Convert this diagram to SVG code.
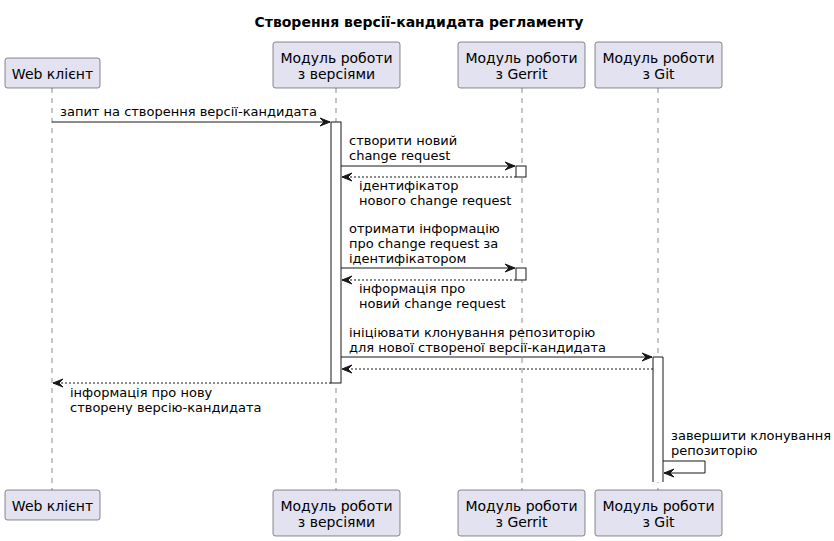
<svg xmlns="http://www.w3.org/2000/svg" width="834" height="541" viewBox="0 0 834 541">
<defs>
<marker id="ah" markerUnits="userSpaceOnUse" markerWidth="12" markerHeight="10" refX="10" refY="4" orient="auto" overflow="visible">
<path d="M0,0 L10,4 L0,8 L4,4 Z" fill="#181818" stroke="#181818" stroke-width="1"/>
</marker>
</defs>
<style>
text{font-family:"DejaVu Sans","Liberation Sans",sans-serif;fill:#000}
.title{font-size:14px;font-weight:bold}
.pt{font-size:14px}
.msg{font-size:13px}
.box{fill:#E2E2F0;stroke:#181818;stroke-width:0.5}
.life{stroke:#181818;stroke-width:0.5;stroke-dasharray:5,5;fill:none}
.act{fill:#FFFFFF;stroke:#181818;stroke-width:1}
.ln{stroke:#181818;stroke-width:1;fill:none;marker-end:url(#ah)}
.ret{stroke-dasharray:2,2}
</style>
<rect width="834" height="541" fill="#FFFFFF"/>
<text class="title" x="419" y="27" text-anchor="middle">Створення версії-кандидата регламенту</text>

<g id="lifelines">
<line class="life" x1="52" y1="88" x2="52" y2="490"/>
<line class="life" x1="336" y1="88" x2="336" y2="490"/>
<line class="life" x1="522" y1="88" x2="522" y2="490"/>
<line class="life" x1="658" y1="88" x2="658" y2="490"/>
</g>

<g id="web">
<rect class="box" x="5" y="58" width="95" height="30" rx="2.5"/>
<text class="pt" x="52.5" y="79" text-anchor="middle">Web клієнт</text>
<rect class="box" x="5" y="490" width="95" height="30" rx="2.5"/>
<text class="pt" x="52.5" y="511" text-anchor="middle">Web клієнт</text>
</g>
<g id="versions">
<rect class="box" x="273" y="42" width="127" height="46" rx="2.5"/>
<text class="pt" x="336.5" y="63" text-anchor="middle">Модуль роботи</text>
<text class="pt" x="336.5" y="79" text-anchor="middle">з версіями</text>
<rect class="box" x="273" y="490" width="127" height="46" rx="2.5"/>
<text class="pt" x="336.5" y="511" text-anchor="middle">Модуль роботи</text>
<text class="pt" x="336.5" y="527" text-anchor="middle">з версіями</text>
</g>
<g id="gerrit">
<rect class="box" x="458" y="42" width="127" height="46" rx="2.5"/>
<text class="pt" x="521.5" y="63" text-anchor="middle">Модуль роботи</text>
<text class="pt" x="521.5" y="79" text-anchor="middle">з Gerrit</text>
<rect class="box" x="458" y="490" width="127" height="46" rx="2.5"/>
<text class="pt" x="521.5" y="511" text-anchor="middle">Модуль роботи</text>
<text class="pt" x="521.5" y="527" text-anchor="middle">з Gerrit</text>
</g>
<g id="git">
<rect class="box" x="595" y="42" width="127" height="46" rx="2.5"/>
<text class="pt" x="658.5" y="63" text-anchor="middle">Модуль роботи</text>
<text class="pt" x="658.5" y="79" text-anchor="middle">з Git</text>
<rect class="box" x="595" y="490" width="127" height="46" rx="2.5"/>
<text class="pt" x="658.5" y="511" text-anchor="middle">Модуль роботи</text>
<text class="pt" x="658.5" y="527" text-anchor="middle">з Git</text>
</g>

<g id="activations">
<rect class="act" x="331" y="122" width="10" height="261"/>
<rect class="act" x="516" y="166" width="10" height="11"/>
<rect class="act" x="516" y="268" width="10" height="12"/>
<rect x="653" y="357" width="10" height="125" fill="#FFFFFF"/>
<path class="act" d="M653,482 L653,357 L663,357 L663,482"/>
</g>

<g id="connectors">
<line class="ln" x1="52" y1="122" x2="330" y2="122"/>
<text class="msg" x="60" y="116">запит на створення версії-кандидата</text>

<line class="ln" x1="341" y1="166" x2="515" y2="166"/>
<text class="msg" x="349" y="145">створити новий</text>
<text class="msg" x="349" y="160">change request</text>

<line class="ln ret" x1="516" y1="177" x2="342" y2="177"/>
<text class="msg" x="359" y="190">ідентифікатор</text>
<text class="msg" x="359" y="205">нового change request</text>

<line class="ln" x1="341" y1="268" x2="515" y2="268"/>
<text class="msg" x="349" y="233">отримати інформацію</text>
<text class="msg" x="349" y="248">про change request за</text>
<text class="msg" x="349" y="263">ідентифікатором</text>

<line class="ln ret" x1="516" y1="280" x2="342" y2="280"/>
<text class="msg" x="359" y="293">інформація про</text>
<text class="msg" x="359" y="308">новий change request</text>

<line class="ln" x1="341" y1="357" x2="652" y2="357"/>
<text class="msg" x="349" y="337">ініціювати клонування репозиторію</text>
<text class="msg" x="349" y="352">для нової створеної версії-кандидата</text>

<line class="ln ret" x1="653" y1="369" x2="342" y2="369"/>

<line class="ln ret" x1="331" y1="383" x2="53" y2="383"/>
<text class="msg" x="70" y="397">інформація про нову</text>
<text class="msg" x="70" y="412">створену версію-кандидата</text>

<polyline class="ln" points="663,461 705,461 705,473 664,473"/>
<text class="msg" x="671" y="440">завершити клонування</text>
<text class="msg" x="671" y="455">репозиторію</text>
</g>
</svg>
